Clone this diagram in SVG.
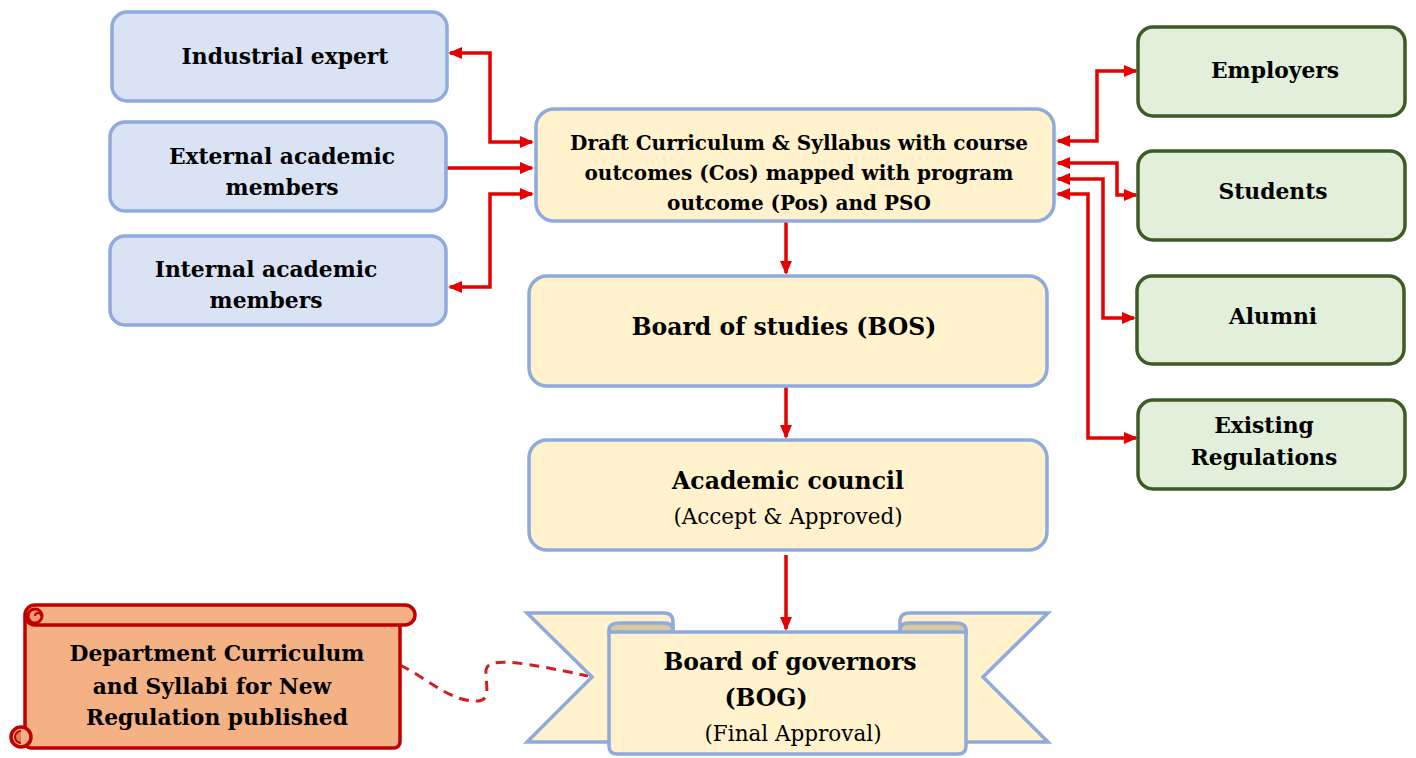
<svg xmlns="http://www.w3.org/2000/svg" width="1416" height="758" viewBox="0 0 1416 758">
<style>
text{font-family:"DejaVu Serif","Liberation Serif",serif;fill:#000;text-anchor:middle}
.b{font-weight:bold;font-size:21.8px}
.d{font-weight:bold;font-size:20px}
.bl{font-weight:bold;font-size:23.5px}
.n{font-weight:normal;font-size:21.5px}
.blue{fill:#dae3f3;stroke:#8faadc;stroke-width:3.5}
.yel{fill:#fff2cc;stroke:#8faadc;stroke-width:3.5}
.fold{fill:#d8c9a0;stroke:#8faadc;stroke-width:3.5}
.grn{fill:#e2efda;stroke:#3d5a27;stroke-width:3.5}
.ar{fill:none;stroke:#e60000;stroke-width:3.5}
.scr{fill:#f4b183;stroke:#c00000;stroke-width:3.5}
</style>
<defs>
<marker id="ah" markerUnits="userSpaceOnUse" markerWidth="14" markerHeight="14" viewBox="0 0 14 14" refX="12" refY="7" orient="auto-start-reverse">
<path d="M0,1 L14,7 L0,13 Z" fill="#e60000"/>
</marker>
</defs>
<g id="connectors">
<path class="ar" d="M450,53 H490 V142 H532" marker-start="url(#ah)" marker-end="url(#ah)"/>
<path class="ar" d="M447,168 H532" marker-end="url(#ah)"/>
<path class="ar" d="M532,194 H490 V287 H450" marker-start="url(#ah)" marker-end="url(#ah)"/>
<path class="ar" d="M1058,141 H1097 V71 H1136" marker-start="url(#ah)" marker-end="url(#ah)"/>
<path class="ar" d="M1058,163 H1117 V195 H1136" marker-start="url(#ah)" marker-end="url(#ah)"/>
<path class="ar" d="M1058,179 H1103 V318 H1134" marker-start="url(#ah)" marker-end="url(#ah)"/>
<path class="ar" d="M1058,194 H1088 V438 H1136" marker-start="url(#ah)" marker-end="url(#ah)"/>
<path class="ar" d="M786,222 V273" marker-end="url(#ah)"/>
<path class="ar" d="M786,387 V437" marker-end="url(#ah)"/>
<path class="ar" d="M786,555 V629" marker-end="url(#ah)"/>
<path d="M400,665 C430,680 450,702 478,701 C492,700 485,682 486,670 C488,655 530,664 588,676" fill="none" stroke="#d11f1f" stroke-width="3" stroke-dasharray="10,7"/>
</g>
<g id="industrial">
<rect class="blue" x="112" y="12" width="335" height="89" rx="15"/>
<text class="b" x="285" y="64">Industrial expert</text>
</g>
<g id="external">
<rect class="blue" x="110" y="122" width="336" height="89" rx="15"/>
<text class="b" x="282" y="164">External academic</text>
<text class="b" x="282" y="195">members</text>
</g>
<g id="internal">
<rect class="blue" x="110" y="236" width="336" height="89" rx="15"/>
<text class="b" x="266" y="277">Internal academic</text>
<text class="b" x="266" y="308">members</text>
</g>
<g id="draft">
<rect class="yel" x="536" y="109" width="518" height="112" rx="18"/>
<text class="d" x="799" y="150">Draft Curriculum &amp; Syllabus with course</text>
<text class="d" x="799" y="180">outcomes (Cos) mapped with program</text>
<text class="d" x="799" y="210">outcome (Pos) and PSO</text>
</g>
<g id="bos">
<rect class="yel" x="529" y="276" width="518" height="110" rx="18"/>
<text class="bl" x="784" y="335">Board of studies (BOS)</text>
</g>
<g id="council">
<rect class="yel" x="529" y="440" width="518" height="110" rx="18"/>
<text class="bl" x="788" y="489">Academic council</text>
<text class="n" x="788" y="524">(Accept &amp; Approved)</text>
</g>
<g id="employers">
<rect class="grn" x="1138" y="27" width="267" height="89" rx="15"/>
<text class="b" x="1275" y="78">Employers</text>
</g>
<g id="students">
<rect class="grn" x="1138" y="151" width="267" height="89" rx="15"/>
<text class="b" x="1273" y="199">Students</text>
</g>
<g id="alumni">
<rect class="grn" x="1137" y="276" width="267" height="88" rx="15"/>
<text class="b" x="1273" y="324">Alumni</text>
</g>
<g id="existing">
<rect class="grn" x="1138" y="400" width="267" height="89" rx="15"/>
<text class="b" x="1264" y="433">Existing</text>
<text class="b" x="1264" y="465">Regulations</text>
</g>
<g id="bog">
<path class="yel" d="M527,613 H664 Q673,613 673,622 V742 H527 L592,677 Z"/>
<path class="yel" d="M1048,613 H909 Q900,613 900,622 V742 H1048 L983,677 Z"/>
<path class="fold" d="M609,633 V630 Q609,623 620,623 H664 Q673,623 673,630 V633 Z"/>
<path class="fold" d="M966,633 V630 Q966,623 955,623 H909 Q900,623 900,630 V633 Z"/>
<path class="yel" d="M609,632 H966 V746 Q966,754 958,754 H617 Q609,754 609,746 Z"/>
<text class="bl" x="790" y="670">Board of governors</text>
<text class="bl" x="766" y="706">(BOG)</text>
<text class="n" x="793" y="741">(Final Approval)</text>
</g>
<g id="published">
<rect class="scr" x="25" y="612" width="375" height="136" rx="6"/>
<rect class="scr" x="25" y="605" width="390" height="20" rx="10"/>
<circle cx="35" cy="616" r="7" fill="#e9a070" stroke="#c00000" stroke-width="3"/>
<path d="M35,616 a3,3 0 0 1 6,0" fill="none" stroke="#c00000" stroke-width="2"/>
<circle class="scr" cx="21" cy="737" r="10"/>
<path d="M21,743 a6,6 0 0 1 0,-12" fill="#d4845a" stroke="#c00000" stroke-width="2"/>
<text class="b" x="217" y="661">Department Curriculum</text>
<text class="b" x="212" y="694">and Syllabi for New</text>
<text class="b" x="217" y="725">Regulation published</text>
</g>
</svg>
